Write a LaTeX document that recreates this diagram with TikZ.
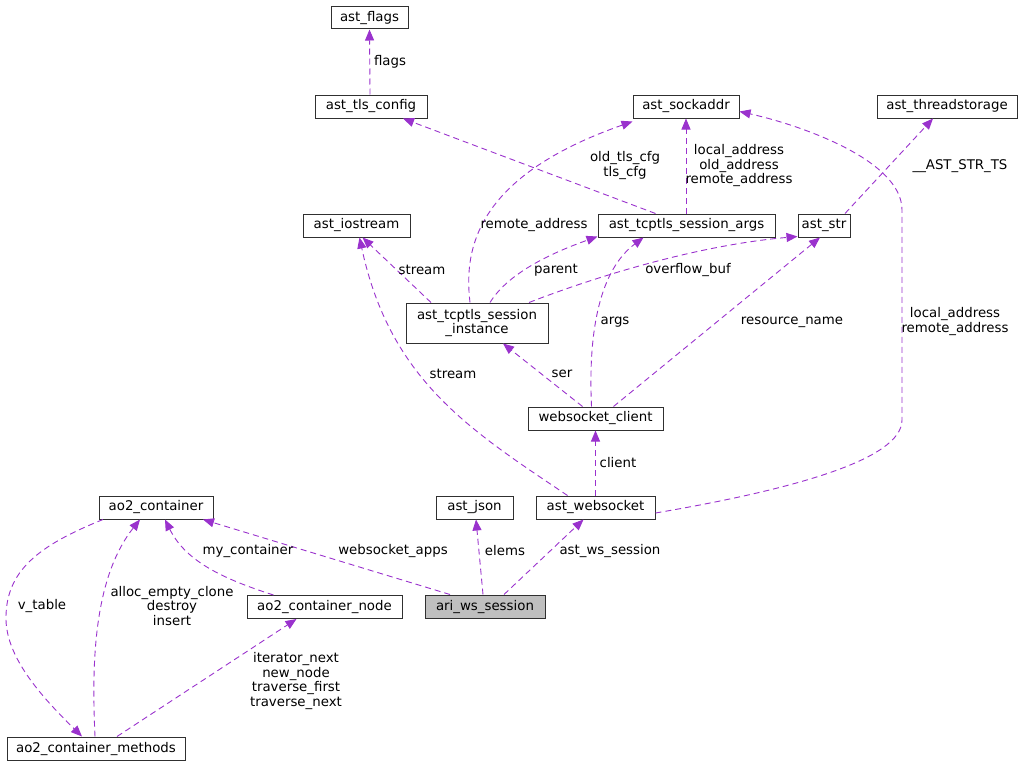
\documentclass[tikz,border=0pt]{standalone}
\usepackage{fontspec}
\setmainfont{DejaVu Sans}
\usetikzlibrary{arrows.meta}
\definecolor{edgec}{HTML}{9A32CD}
\definecolor{boxc}{HTML}{303030}
\tikzset{
  cls/.style={draw=boxc, line width=1pt, fill=white, inner sep=0pt, minimum height=23pt,
    font=\fontsize{13.33}{14}\selectfont, align=center},
  rel/.style={draw=edgec, line width=0.9pt, dash pattern=on 6pt off 4pt,
    -{Triangle[length=11pt,width=9pt,fill=edgec]}},
  lbl/.style={font=\fontsize{13.33}{14.5}\selectfont, align=center, inner sep=0pt, text=black}
}
\begin{document}
\begin{tikzpicture}[x=1pt,y=-1pt]
\useasboundingbox (0,0) rectangle (1022,768);
% nodes
\node[cls, minimum width=77pt, minimum height=22pt] (flags) at (369.5,18) {ast\_flags};
\node[cls, minimum width=112pt] (tls) at (371,106.5) {ast\_tls\_config};
\node[cls, minimum width=106pt] (sock) at (686,106.5) {ast\_sockaddr};
\node[cls, minimum width=140pt] (thread) at (947,106.5) {ast\_threadstorage};
\node[cls, minimum width=107pt] (iostream) at (356.5,225.5) {ast\_iostream};
\node[cls, minimum width=177pt] (args) at (686.5,225.5) {ast\_tcptls\_session\_args};
\node[cls, minimum width=52pt] (str) at (824,225.5) {ast\_str};
\node[cls, minimum width=142pt, minimum height=40pt] (inst) at (477,323) {ast\_tcptls\_session\\\_instance};
\node[cls, minimum width=135pt] (wsclient) at (595.5,418.5) {websocket\_client};
\node[cls, minimum width=114pt] (ao2c) at (156,507.5) {ao2\_container};
\node[cls, minimum width=77pt] (json) at (474.5,507.5) {ast\_json};
\node[cls, minimum width=119pt] (wsock) at (595.5,507.5) {ast\_websocket};
\node[cls, minimum width=155pt] (cnode) at (324.5,607) {ao2\_container\_node};
\node[cls, minimum width=120pt, fill={rgb,255:red,191;green,191;blue,191}] (ari) at (485,606.5) {ari\_ws\_session};
\node[cls, minimum width=178pt] (methods) at (96,748.5) {ao2\_container\_methods};
% edges
\draw[rel] ([xshift=-1pt]tls.north) -- (flags.south);
\draw[rel] ([xshift=-31pt]args.north) -- ([xshift=32pt]tls.south);
\draw[rel] ([xshift=-0.5pt]args.north) -- (sock.south);
\draw[rel] ([xshift=-7pt]inst.north) .. controls (463,245) and (480,175) .. ([yshift=-3pt]sock.south west);
\draw[rel] ([yshift=-5.5pt]wsock.east) .. controls (790,490) and (902,460) .. (902,420) -- (902,210) .. controls (902,160) and (800,125) .. ([yshift=-5pt]sock.east);
\draw[rel] ([xshift=21pt]str.north) -- ([xshift=-14pt]thread.south);
\draw[rel] ([xshift=-46pt]inst.north) -- ([xshift=6pt]iostream.south);
\draw[rel] ([xshift=-28pt]wsock.north) .. controls (470,430) and (390,380) .. ([xshift=3pt]iostream.south);
\draw[rel] ([xshift=13pt]inst.north) .. controls (510,270) and (560,250) .. ([yshift=1pt]args.south west);
\draw[rel] ([xshift=52pt]inst.north) .. controls (600,275) and (700,245) .. ([yshift=1pt]str.south west);
\draw[rel] ([xshift=-4pt]wsclient.north) .. controls (588,330) and (600,270) .. ([xshift=-43pt]args.south);
\draw[rel] ([xshift=18pt]wsclient.north) -- ([xshift=-4pt]str.south);
\draw[rel] ([xshift=-13pt]wsclient.north) -- ([xshift=26pt]inst.south);
\draw[rel] (wsock.north) -- (wsclient.south);
\draw[rel] ([xshift=-35pt]ari.north) -- ([xshift=47pt]ao2c.south);
\draw[rel] ([xshift=-2pt]ari.north) -- ([xshift=1.5pt]json.south);
\draw[rel] ([xshift=19pt]ari.north) -- ([xshift=-12pt]wsock.south);
\draw[rel] ([xshift=-51pt]cnode.north) .. controls (220,578) and (185,560) .. ([xshift=9pt]ao2c.south);
\draw[rel] ([xshift=-53pt]ao2c.south) .. controls (40,545) and (5,570) .. (6,620) .. controls (7,660) and (45,700) .. ([xshift=-14pt]methods.north);
\draw[rel] ([xshift=-1pt]methods.north) .. controls (92,670) and (92,580) .. ([xshift=-16pt]ao2c.south);
\draw[rel] ([xshift=21pt]methods.north) -- ([xshift=-28pt]cnode.south);
% labels
\node[lbl] (l1) at (390,62) {flags};
\node[lbl] (l2) at (625,165.5) {old\_tls\_cfg\\tls\_cfg};
\node[lbl] (l3) at (739,166) {local\_address\\old\_address\\remote\_address};
\node[lbl] (l4) at (534,225) {remote\_address};
\node[lbl] (l5) at (955,321.5) {local\_address\\remote\_address};
\node[lbl] (l6) at (960,166) {\_\_AST\_STR\_TS};
\node[lbl] (l7) at (422,270) {stream};
\node[lbl] (l8) at (453,374) {stream};
\node[lbl] (l9) at (556,270) {parent};
\node[lbl] (l10) at (688,270) {overflow\_buf};
\node[lbl] (l11) at (615,322) {args};
\node[lbl] (l12) at (792,322) {resource\_name};
\node[lbl] (l13) at (562,374) {ser};
\node[lbl] (l14) at (618,463) {client};
\node[lbl] (l15) at (393,551) {websocket\_apps};
\node[lbl] (l16) at (505,551) {elems};
\node[lbl] (l17) at (610,551) {ast\_ws\_session};
\node[lbl] (l18) at (248,551) {my\_container};
\node[lbl] (l19) at (42,606) {v\_table};
\node[lbl] (l20) at (172,606) {alloc\_empty\_clone\\destroy\\insert};
\node[lbl] (l21) at (296,681) {iterator\_next\\new\_node\\traverse\_first\\traverse\_next};
\end{tikzpicture}
\end{document}
